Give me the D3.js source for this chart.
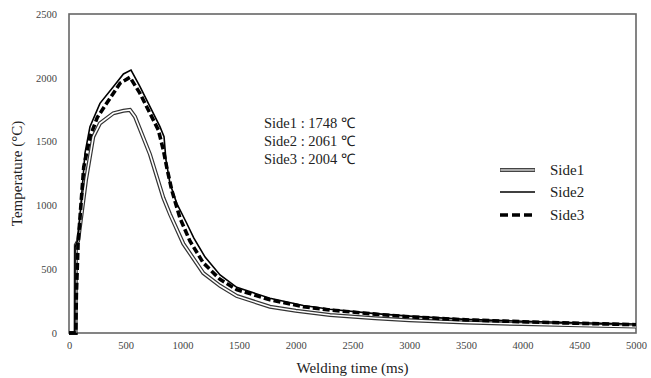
<!DOCTYPE html>
<html>
<head>
<meta charset="utf-8">
<script src="https://cdn.jsdelivr.net/npm/d3@7"></script>
<style>
  body { margin: 0; background: #fff; }
  svg { display: block; }
  text { font-family: "Liberation Serif", "Times New Roman", serif; }
</style>
</head>
<body>
<svg id="chart" width="651" height="378"></svg>
<script>
// ---- data (time in ms, temperature in °C) ----
const side1 = [[0,0],[58,0],[60,690],[80,720],[150,1200],[214,1538],[273,1643],[391,1722],[480,1742],[538,1748],[582,1695],[714,1400],[832,1060],[891,930],[1008,700],[1184,470],[1332,370],[1479,290],[1772,206],[2000,175],[2302,141],[2700,115],[3000,100],[3500,82],[4000,70],[4500,60],[5000,50]];
const side2 = [[0,0],[52,0],[54,676],[80,730],[141,1410],[185,1617],[273,1800],[391,1930],[480,2030],[547,2061],[626,1930],[714,1774],[802,1617],[838,1538],[855,1356],[890,1174],[950,1016],[1038,860],[1100,745],[1200,595],[1332,455],[1479,358],[1772,272],[2066,216],[2302,186],[2700,152],[3000,132],[3500,107],[4000,92],[4500,80],[5000,70]];
const side3 = [[0,0],[60,0],[65,300],[80,700],[100,940],[130,1300],[185,1538],[250,1690],[332,1800],[450,1957],[538,2004],[626,1878],[714,1722],[788,1591],[832,1434],[861,1303],[906,1120],[979,900],[1067,720],[1184,550],[1332,420],[1479,340],[1772,260],[2066,206],[2302,180],[2700,148],[3000,127],[3500,103],[4000,88],[4500,76],[5000,65]];
const seriesNames = ["Side1","Side2","Side3"];
const peakLabels = ["Side1 : 1748 \u2103","Side2 : 2061 \u2103","Side3 : 2004 \u2103"];
const xTicks = [0,500,1000,1500,2000,2500,3000,3500,4000,4500,5000];
const yTicks = [0,500,1000,1500,2000,2500];
const xTitle = "Welding time (ms)";
const yTitle = "Temperature (°C)";

// ---- layout ----
const svg = d3.select("#chart");
const L = 69, R = 636, T = 14, B = 333;
const x = d3.scaleLinear().domain([0,5000]).range([L,R]);
const y = d3.scaleLinear().domain([0,2500]).range([B,T]);

// frame
svg.append("rect").attr("x",L).attr("y",T).attr("width",R-L).attr("height",B-T)
  .attr("fill","none").attr("stroke","#666").attr("stroke-width",1.6);

// axes (labels only)
const xa = svg.append("g").attr("transform",`translate(0,${B})`)
  .call(d3.axisBottom(x).tickValues(xTicks).tickSize(0).tickPadding(9).tickFormat(d3.format("d")));
const ya = svg.append("g").attr("transform",`translate(${L},0)`)
  .call(d3.axisLeft(y).tickValues(yTicks).tickSize(0).tickPadding(12).tickFormat(d3.format("d")));
[xa,ya].forEach(a => {
  a.select(".domain").remove();
  a.selectAll("text").attr("font-family","Liberation Serif").attr("font-size",10.5).attr("fill","#444");
});

// titles
svg.append("text").attr("x",(L+R)/2).attr("y",373).attr("text-anchor","middle")
  .attr("font-size",15).attr("fill","#222").text(xTitle);
svg.append("text").attr("transform",`translate(22,${(T+B)/2}) rotate(-90)`).attr("text-anchor","middle")
  .attr("font-size",15).attr("fill","#222").text(yTitle);

// lines
const line = d3.line().x(d => x(d[0])).y(d => y(d[1]));
const g = svg.append("g");
// Side1: double line
g.append("path").datum(side1).attr("d",line).attr("fill","none")
  .attr("stroke","#333").attr("stroke-width",4).attr("stroke-linejoin","miter");
g.append("path").datum(side1).attr("d",line).attr("fill","none")
  .attr("stroke","#fff").attr("stroke-width",1.6).attr("stroke-linejoin","miter");
// Side3: dashed
g.append("path").datum(side3).attr("d",line).attr("fill","none")
  .attr("stroke","#000").attr("stroke-width",3.6).attr("stroke-dasharray","7,3");
// Side2: thin solid
g.append("path").datum(side2).attr("d",line).attr("fill","none")
  .attr("stroke","#000").attr("stroke-width",1.6);

// peak annotation
peakLabels.forEach((t,i) => {
  svg.append("text").attr("x",264).attr("y",128 + i*18)
    .attr("font-size",14.5).attr("fill","#222").text(t);
});

// legend
const lg = svg.append("g");
const ly = [170,192,215];
const lx0 = 500, lx1 = 535;
lg.append("line").attr("x1",lx0).attr("x2",lx1).attr("y1",ly[0]).attr("y2",ly[0])
  .attr("stroke","#444").attr("stroke-width",4);
lg.append("line").attr("x1",lx0+0.5).attr("x2",lx1-0.5).attr("y1",ly[0]).attr("y2",ly[0])
  .attr("stroke","#aaa").attr("stroke-width",1.8);
lg.append("line").attr("x1",lx0).attr("x2",lx1).attr("y1",ly[1]).attr("y2",ly[1])
  .attr("stroke","#000").attr("stroke-width",1.6);
lg.append("line").attr("x1",lx0).attr("x2",lx1).attr("y1",ly[2]).attr("y2",ly[2])
  .attr("stroke","#000").attr("stroke-width",3.6).attr("stroke-dasharray","8,4");
seriesNames.forEach((n,i) => {
  lg.append("text").attr("x",550).attr("y",ly[i]+5).attr("font-size",15).attr("fill","#222").text(n);
});
</script>
</body>
</html>
